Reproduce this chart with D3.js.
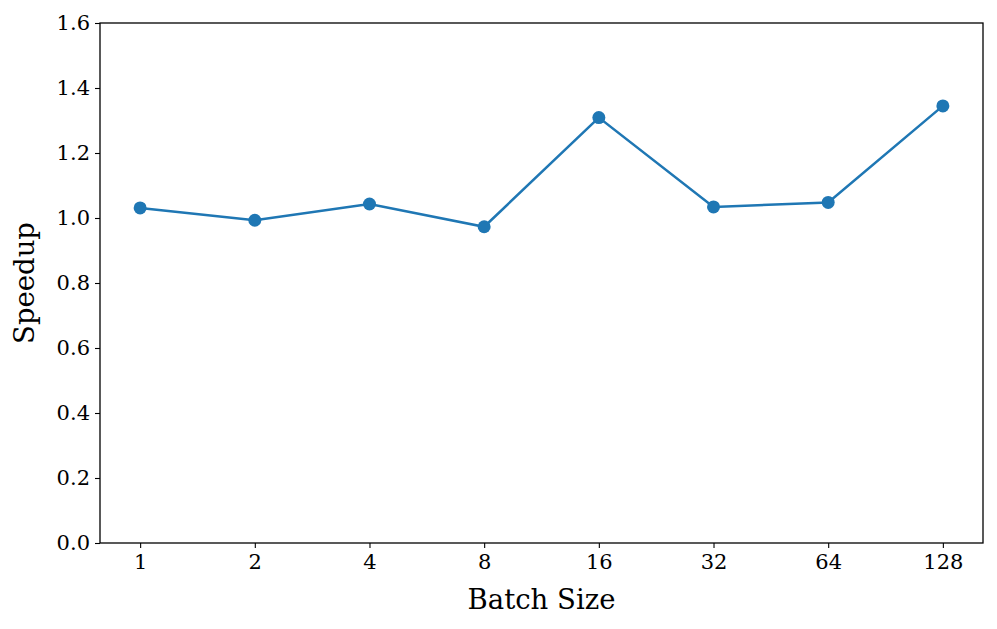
<html>
  <head>
    <script src="https://d3js.org/d3.v7.min.js"></script>
    <style>
      body { margin: 0; background: #fff; }
      svg text { font-family: "DejaVu Serif", serif; fill: #000; }
    </style>
  </head>
  <body>
    <div id="vis"></div>
    <script>
      // Data
      var batchSizes = ["1", "2", "4", "8", "16", "32", "64", "128"];
      var speedups = [1.031, 0.993, 1.043, 0.973, 1.309, 1.034, 1.048, 1.345];
      var yTicks = [0.0, 0.2, 0.4, 0.6, 0.8, 1.0, 1.2, 1.4, 1.6];

      var W = 997, H = 629;
      var margin = { top: 23, right: 14, bottom: 86, left: 100 };
      var width = W - margin.left - margin.right;
      var height = H - margin.top - margin.bottom;

      var svg = d3.select("#vis").append("svg")
        .attr("width", W).attr("height", H)
        .append("g")
        .attr("transform", "translate(" + margin.left + "," + margin.top + ")");

      var n = batchSizes.length;
      var pad = 0.05 * (n - 1);
      var x = d3.scaleLinear().domain([-pad, n - 1 + pad]).range([0, width]);
      var y = d3.scaleLinear().domain([0, 1.6]).range([height, 0]);

      // Axes
      var xAxis = svg.append("g")
        .attr("transform", "translate(0," + height + ")")
        .call(d3.axisBottom(x)
          .tickValues(d3.range(n))
          .tickFormat(function (i) { return batchSizes[i]; })
          .tickSize(5).tickPadding(6));
      var yAxis = svg.append("g")
        .call(d3.axisLeft(y)
          .tickValues(yTicks)
          .tickFormat(d3.format(".1f"))
          .tickSize(5).tickPadding(5));

      [xAxis, yAxis].forEach(function (a) {
        a.attr("font-size", 21).attr("font-family", "DejaVu Serif");
        a.select(".domain").remove();
        a.selectAll("line").attr("stroke", "#000").attr("stroke-width", 1.1);
      });

      // Frame
      svg.append("rect")
        .attr("width", width).attr("height", height)
        .attr("fill", "none").attr("stroke", "#000").attr("stroke-width", 1.3);

      // Line
      var pts = speedups.map(function (v, i) { return [i, v]; });
      svg.append("path")
        .datum(pts)
        .attr("fill", "none")
        .attr("stroke", "#1f77b4")
        .attr("stroke-width", 2.5)
        .attr("d", d3.line()
          .x(function (d) { return x(d[0]); })
          .y(function (d) { return y(d[1]); }));

      svg.selectAll("circle.pt")
        .data(pts).enter().append("circle")
        .attr("class", "pt")
        .attr("cx", function (d) { return x(d[0]); })
        .attr("cy", function (d) { return y(d[1]); })
        .attr("r", 6.5)
        .attr("fill", "#1f77b4");

      // Labels
      svg.append("text")
        .attr("x", width / 2).attr("y", height + 66)
        .attr("text-anchor", "middle")
        .attr("font-size", 27.5)
        .text("Batch Size");
      svg.append("text")
        .attr("transform", "translate(" + (-66) + "," + (height / 2) + ") rotate(-90)")
        .attr("text-anchor", "middle")
        .attr("font-size", 27.5)
        .text("Speedup");
    </script>
  </body>
</html>
